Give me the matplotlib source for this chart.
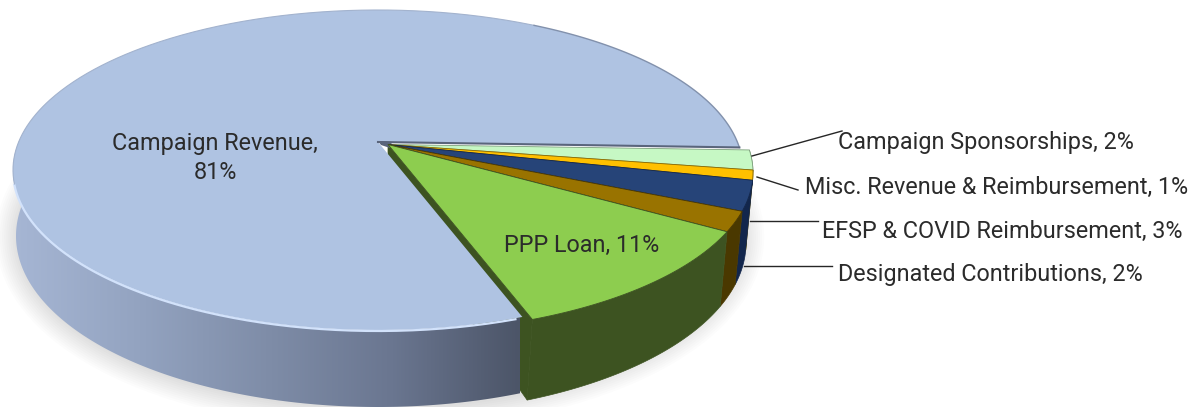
import numpy as np
import matplotlib
matplotlib.use("Agg")
import matplotlib.pyplot as plt
from matplotlib.patches import Polygon
from matplotlib.colors import LinearSegmentedColormap

# pie data, clockwise from the small group start
categories = ["Campaign Sponsorships", "Misc. Revenue & Reimbursement",
              "EFSP & COVID Reimbursement", "Designated Contributions",
              "PPP Loan", "Campaign Revenue"]
values = [2, 1, 3, 2, 11, 81]
top_colors = ["#C6F8C4", "#FFC000", "#264478", "#997300", "#8DCD4F", "#AFC3E2"]
wall_colors = ["#7FA07E", "#8A6A00", "#12264C", "#4A3800", "#3D5321", None]

plt.rcParams["font.family"] = ["Roboto", "DejaVu Sans"]

fig = plt.figure(figsize=(11.9, 4.07), dpi=100)
ax = fig.add_axes([0, 0, 1, 1])

start_angle = -2.0
apex_shift = 0.175
explode = np.array([10.0, 2.5])
explode_low = np.array([6.0, 7.0])
apex = np.array([378.0, 142.0])


def top_xy(theta, shift=(0, 0)):
    # circle -> perspective ellipse, pie centre lands above the ellipse centre
    u, v = np.cos(np.radians(theta)), np.sin(np.radians(theta))
    den = 1 + apex_shift * v
    x = u * np.sqrt(1 - apex_shift ** 2) / den
    y = (v + apex_shift) / den
    return np.column_stack([378 + 365 * x + shift[0], 170 - 160 * y + shift[1]])


def bottom_xy(theta, shift=(0, 0)):
    u, v = np.cos(np.radians(theta)), np.sin(np.radians(theta))
    den = 1 + apex_shift * v
    x = u * np.sqrt(1 - apex_shift ** 2) / den
    y = (v + apex_shift) / den
    return np.column_stack([378 + 362 * x + shift[0], 236 - 171 * y + shift[1]])


def arc(a, b):
    return np.linspace(a, b, max(int(abs(b - a) * 2), 3))


# slice limits
ends = start_angle - np.cumsum(values) * 3.6
starts = np.r_[start_angle, ends[:-1]]

# soft shadow below the wall
edge = bottom_xy(arc(20, -215), (2, 1))
for w in range(2, 34, 3):
    ax.plot(edge[:, 0], edge[:, 1], color="black", lw=w, alpha=0.012,
            solid_capstyle="round", zorder=1)
ax.add_patch(Polygon(top_xy(arc(0, 360)), closed=True, fc="white", ec="none", zorder=1.1))

# walls of the pulled out slices, back to front
for i in range(5):
    t = arc(starts[i], ends[i])
    wall = np.vstack([top_xy(t, explode), bottom_xy(t[::-1], explode_low)])
    ax.add_patch(Polygon(wall, closed=True, fc=wall_colors[i], ec=wall_colors[i],
                         lw=0.5, zorder=2 + i * 0.1))

# cut side of the PPP slice, seen past the main slice
outer_top = top_xy(np.array([ends[4]]), explode)[0]
outer_bot = bottom_xy(np.array([ends[4]]), explode_low)[0]
apex_small = apex + explode
ax.add_patch(Polygon([apex_small, outer_top, outer_bot, apex_small + [0, 60]], closed=True,
                     fc="#3D5321", ec="#3D5321", lw=0.5, zorder=3))

# main wall with horizontal gradient
t_front = arc(starts[5], -200)
wall_patch = Polygon(np.vstack([top_xy(t_front), bottom_xy(t_front[::-1])]),
                     closed=True, fc="none", ec="none", zorder=4)
ax.add_patch(wall_patch)
wall_cmap = LinearSegmentedColormap.from_list(
    "wall", ["#A6B6D4", "#93A3C0", "#7F8DA8", "#6A7690", "#4C5568"])
grad = np.linspace(0, 1, 256).reshape(1, -1)
im = ax.imshow(grad, extent=[13, 520, 407, 140], aspect="auto", cmap=wall_cmap, zorder=4)
im.set_clip_path(wall_patch)

# main top face
main_xy = np.vstack([apex, top_xy(arc(starts[5], ends[5]))])
ax.add_patch(Polygon(main_xy, closed=True, fc=top_colors[5], ec="none", zorder=5))

# rim light on the front, grey on the back edge
rim = top_xy(arc(starts[5] - 1, -165))
ax.plot(rim[:, 0], rim[:, 1] + 1, color="#D2E2FB", lw=1.6, zorder=5.5)
back = top_xy(arc(-165, -300))
ax.plot(back[:, 0], back[:, 1], color="#A3B3CE", lw=0.8, zorder=5.5)
back = top_xy(arc(-300, -362))
ax.plot(back[:, 0], back[:, 1], color="#8291AC", lw=1.0, zorder=5.5)

# inner cut edge of the main slice
cut = top_xy(np.array([start_angle]))[0]
ax.plot([apex[0], cut[0]], [apex[1], cut[1]], color="#5A657C", lw=1.5, zorder=5.6)
ax.add_patch(Polygon([apex + [0, -1], apex + [14, 0], apex + [12, 6], apex + [3, 3]], closed=True,
                     fc="#5A657C", ec="none", zorder=5.6))

# top faces of the small slices
for i in range(5):
    xy = np.vstack([apex_small, top_xy(arc(starts[i], ends[i]), explode)])
    ax.add_patch(Polygon(xy, closed=True, fc=top_colors[i], ec=wall_colors[i],
                         lw=0.6, zorder=6))

# leader lines
leaders = [([752, 842], [156, 131]), ([757, 798], [177, 190]),
           ([750, 818], [221, 221]), ([744, 832], [266, 266])]
for lx, ly in leaders:
    ax.plot(lx, ly, color="#262626", lw=1.0, zorder=7)

txt_color = "#2B2B2B"
fs = 16.8
ax.text(838, 143, f"{categories[0]}, {values[0]}%", fontsize=fs, color=txt_color, va="center", ha="left", zorder=8)
ax.text(805, 187, f"{categories[1]}, {values[1]}%", fontsize=fs, color=txt_color, va="center", ha="left", zorder=8)
ax.text(822, 231, f"{categories[2]}, {values[2]}%", fontsize=fs, color=txt_color, va="center", ha="left", zorder=8)
ax.text(838, 274, f"{categories[3]}, {values[3]}%", fontsize=fs, color=txt_color, va="center", ha="left", zorder=8)
ax.text(582, 245, f"{categories[4]}, {values[4]}%", fontsize=fs, color=txt_color, va="center", ha="center", zorder=8)
ax.text(215, 158, f"{categories[5]},\n{values[5]}%", fontsize=fs, color=txt_color, va="center", ha="center",
        linespacing=1.38, zorder=8)

ax.set_xlim(0, 1190)
ax.set_ylim(407, 0)
ax.axis("off")
fig.savefig("out.png", dpi=100)
